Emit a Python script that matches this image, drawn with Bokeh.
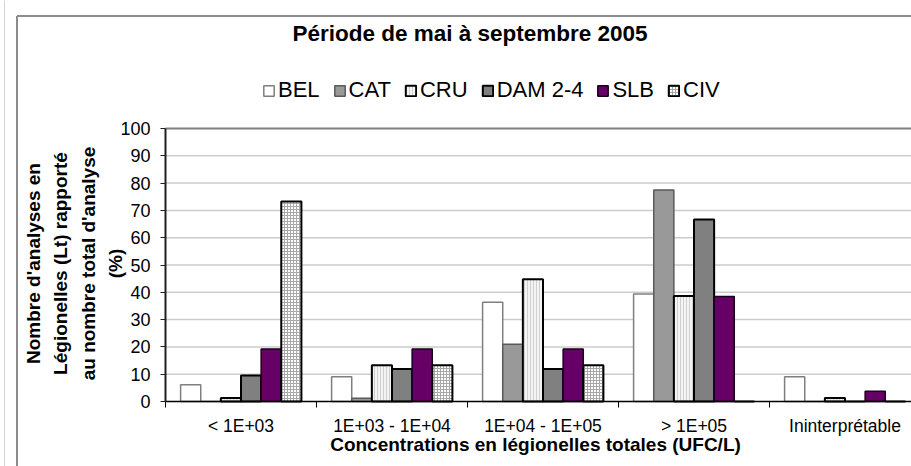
import math
from bokeh.plotting import figure
from bokeh.models import (Range1d, FixedTicker, Legend, LegendItem, LinearAxis, Label)
from bokeh.embed import file_html
from bokeh.resources import INLINE
import numpy as np

categories = ["< 1E+03", "1E+03 - 1E+04", "1E+04 - 1E+05", "> 1E+05", "Ininterprétable"]
series = ["BEL", "CAT", "CRU", "DAM 2-4", "SLB", "CIV"]
BEL = [6.1, 9.1, 36.4, 39.4, 9.1]
CAT = [0, 1.2, 21.0, 77.5, 0]
CRU = [1.3, 13.3, 44.8, 38.6, 1.3]
DAM = [9.5, 11.9, 11.9, 66.7, 0]
SLB = [19.2, 19.2, 19.2, 38.5, 3.8]
CIV = [73.3, 13.3, 13.3, 0, 0]
values = [BEL, CAT, CRU, DAM, SLB, CIV]
y_ticks = list(range(0, 101, 10))
title = "Période de mai à septembre 2005"
x_title = "Concentrations en légionelles totales (UFC/L)"
y_title = "Nombre d'analyses en\nLégionelles (Lt) rapporté\nau nombre total d'analyse\n(%)"

styles = [
    dict(fill_color="#ffffff", line_color="#7f7f7f", line_width=1.5),
    dict(fill_color="#999999", line_color="#5a5a5a", line_width=1.5),
    dict(fill_color="#f4f4f4", line_color="#000000", line_width=2,
         hatch_pattern="vertical_line", hatch_color="#d0d0d0", hatch_scale=3, hatch_weight=1),
    dict(fill_color="#808080", line_color="#000000", line_width=2),
    dict(fill_color="#660066", line_color="#1a001a", line_width=1.5),
    dict(fill_color="#ffffff", line_color="#000000", line_width=2,
         hatch_pattern="cross", hatch_color="#a8a8a8", hatch_scale=3, hatch_weight=1),
]

FONT = "Liberation Sans"
# picture geometry (pixels)
CX0, CY0 = 0, 0            # canvas origin in the picture
W, H = 911, 466            # canvas size
AX_X, AX_Y = 165, 401      # position of data origin
PX_X, PX_Y = 151.0, 2.73   # pixels per data unit
BORDER_X, BORDER_Y = 16.5, 15.5
PAGE_EDGE_X = 4

def dx(px):
    return (px - AX_X) / PX_X

def dy(py):
    return (AX_Y - py) / PX_Y

def sx(px):
    return px - CX0

def sy(py):
    return H - (py - CY0)

x_start, x_end = dx(CX0), dx(CX0 + W)
y_start, y_end = dy(CY0 + H), dy(CY0)

p = figure(width=W, height=H, output_backend="svg", toolbar_location=None,
           x_range=Range1d(x_start, x_end), y_range=Range1d(y_start, y_end),
           x_axis_location=None, y_axis_location=None,
           min_border_left=0, min_border_right=0, min_border_top=0, min_border_bottom=0)
p.outline_line_color = None
p.background_fill_color = "#ffffff"
p.border_fill_color = "#ffffff"
p.xgrid.visible = False
p.ygrid.visible = False

# faint page edge and outer chart border (left and top, the rest is outside the view)
p.segment(x0=dx(PAGE_EDGE_X), y0=y_start, x1=dx(PAGE_EDGE_X), y1=y_end,
          line_color="#d4d4d4", line_width=1)
p.segment(x0=[dx(BORDER_X), dx(BORDER_X)], y0=[dy(BORDER_Y), dy(BORDER_Y)],
          x1=[dx(BORDER_X), x_end], y1=[y_start, dy(BORDER_Y)],
          line_color="#8c8c8c", line_width=2)

# grid lines from tick values
p.segment(x0=0, x1=x_end, y0=y_ticks[1:-1], y1=y_ticks[1:-1], line_color="#cccccc", line_width=1.5)
p.segment(x0=0, x1=x_end, y0=y_ticks[-1], y1=y_ticks[-1], line_color="#808080", line_width=2)

n = len(series)
bw = 0.8 / n
renderers = []
for j, (name, vals) in enumerate(zip(series, values)):
    xs = np.arange(len(categories)) + 0.1 + (j + 0.5) * bw
    r = p.vbar(x=xs, top=vals, bottom=0, width=bw, **styles[j])
    renderers.append(r)

# y axis
yaxis = LinearAxis(fixed_location=0, bounds=(0, 100), ticker=FixedTicker(ticks=y_ticks))
yaxis.major_tick_in = 0
yaxis.major_tick_out = 5
yaxis.minor_tick_line_color = None
yaxis.axis_line_color = "#202020"
yaxis.axis_line_width = 2
yaxis.major_tick_line_color = "#202020"
yaxis.major_label_text_font = FONT
yaxis.major_label_text_font_size = "18px"
yaxis.major_label_text_color = "#000000"
yaxis.major_label_standoff = 10
p.add_layout(yaxis, "left")

# x axis: labels at category centres, tick marks between categories
centers = [i + 0.5 for i in range(len(categories))]
xaxis = LinearAxis(fixed_location=0, bounds=(0, x_end),
                   ticker=FixedTicker(ticks=centers, minor_ticks=list(range(len(categories) + 1))))
xaxis.major_label_overrides = {c: lab for c, lab in zip(centers, categories)}
xaxis.major_tick_line_color = None
xaxis.major_tick_in = 0
xaxis.major_tick_out = 0
xaxis.minor_tick_in = 0
xaxis.minor_tick_out = 6
xaxis.minor_tick_line_color = "#000000"
xaxis.axis_line_color = "#000000"
xaxis.axis_line_width = 1.5
xaxis.major_label_text_font = FONT
xaxis.major_label_text_font_size = "17.5px"
xaxis.major_label_text_color = "#000000"
xaxis.major_label_standoff = 8
p.add_layout(xaxis, "below")

# titles
p.add_layout(Label(x=sx(469.5), y=sy(33), x_units="screen", y_units="screen", text=title,
                   text_font=FONT, text_font_size="22.5px", text_font_style="bold",
                   text_align="center", text_baseline="middle", text_color="#000000"))
p.add_layout(Label(x=sx(535), y=sy(444), x_units="screen", y_units="screen", text=x_title,
                   text_font=FONT, text_font_size="19px", text_font_style="bold",
                   text_align="center", text_baseline="middle", text_color="#000000"))
p.add_layout(Label(x=sx(74), y=sy(263), x_units="screen", y_units="screen", text=y_title,
                   angle=math.pi / 2, text_font=FONT, text_font_size="19px", text_font_style="bold",
                   text_align="center", text_baseline="middle", text_color="#000000",
                   text_line_height=1.3))

legend = Legend(items=[LegendItem(label=s, renderers=[r]) for s, r in zip(series, renderers)],
                orientation="horizontal", location=(sx(262), sy(103)))
legend.glyph_width = 13
legend.glyph_height = 13
legend.label_standoff = 3
legend.spacing = 13
legend.padding = 0
legend.margin = 0
legend.border_line_color = None
legend.background_fill_alpha = 0
legend.label_text_font = FONT
legend.label_text_font_size = "22px"
legend.label_text_color = "#000000"
legend.label_height = 24
p.add_layout(legend, "center")

open("out.html", "w").write(file_html(p, INLINE))
